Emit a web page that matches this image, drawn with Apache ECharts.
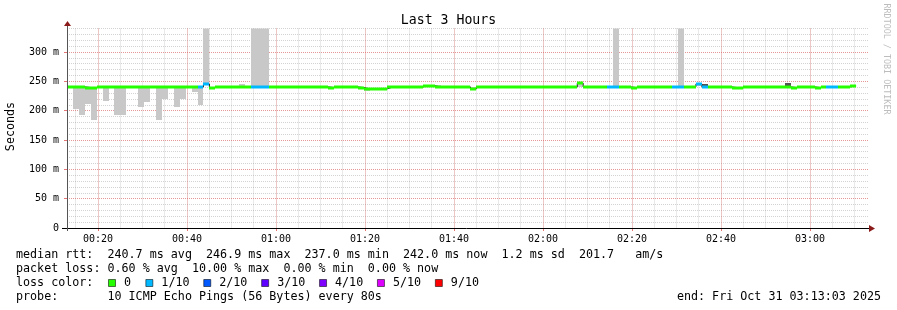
<!DOCTYPE html>
<html><head><meta charset="utf-8">
<script src="https://cdn.jsdelivr.net/npm/echarts@6/dist/echarts.min.js"></script>
<style>html,body{margin:0;padding:0;background:#fff}#c{width:897px;height:310px}</style>
</head><body><div id="c"></div>
<script>
// ---- data ----
const titleText = 'Last 3 Hours';
const yAxisName = 'Seconds';
const startUtc = Date.UTC(2025, 9, 31, 0, 13, 3);   // chart start (UTC used as display clock)
const spanSeconds = 10800;
const stepSeconds = 80;
const xTickLabels = ['00:20','00:40','01:00','01:20','01:40','02:00','02:20','02:40','03:00'];
const yTickValues = [0, 50, 100, 150, 200, 250, 300];
const yTickLabels = ['0', '50 m', '100 m', '150 m', '200 m', '250 m', '300 m'];
const yMaxMs = 340;

// median rtt per 80 s step (ms)
const medianMs = [
  240.5,240.5,240.5,239.4,239.4,240.5,240.5,240.5,240.5,240.5,
  240.5,240.5,240.5,240.5,240.5,240.5,240.5,240.5,240.5,240.5,
  240.5,240.5,240.5,245.5,239.4,240.5,240.5,239.6,239.6,240.5,
  240.5,240.5,240.5,240.5,240.5,240.5,239.8,239.8,239.8,240.5,
  240.5,240.5,240.5,240.5,239.4,240.5,240.5,240.5,240.5,239.4,
  237.2,237.2,237.2,237.2,240.5,240.5,240.5,240.5,240.5,240.5,
  242.3,242.3,240.5,240.5,240.5,240.5,240.5,240.5,237.0,240.5,
  240.5,240.5,240.5,240.5,240.5,240.5,239.6,239.6,239.6,239.6,
  239.6,239.6,239.6,240.5,240.5,240.5,246.9,240.5,240.5,240.5,
  240.5,240.5,240.5,240.5,240.5,239.2,240.5,240.5,240.5,240.5,
  240.5,240.5,240.5,240.5,240.5,240.5,245.5,240.5,240.5,240.5,
  240.5,240.5,239.2,239.2,240.5,240.5,240.5,240.5,240.5,240.5,
  240.5,240.5,239.2,240.5,240.5,240.5,239.2,240.5,240.5,240.5,
  240.5,240.5,242.0
];
// lost pings (of 10) per step
const lossCount = [
  0,0,0,0,0,0,0,0,0,0,
  0,0,0,0,0,0,0,0,0,0,
  0,0,1,1,0,0,0,0,0,0,
  0,1,1,1,0,0,0,0,0,0,
  0,0,0,0,0,0,0,0,0,0,
  0,0,0,0,0,0,0,0,0,0,
  0,0,0,0,0,0,0,0,0,0,
  0,0,0,0,0,0,0,0,0,0,
  0,0,0,0,0,0,0,0,0,0,
  0,1,1,0,0,0,0,0,0,0,
  0,0,1,1,0,0,1,1,0,0,
  0,0,0,0,0,0,0,0,0,0,
  0,0,0,0,0,0,0,0,1,1,
  0,0,0
];
// smoke (ping spread) per step
const smokeStep = [1,2,3,4,6,8,9,12,13,15,16,18,19,21,22,23,29,31,32,33,50,62,68,86,92,103,106];
const smokeLow  = [202,193,211.7,184.5,215.6,191.8,191.8,205.4,213.9,183.3,219,205.4,220,232.6,210,245.5,240.5,242,242,242,233,240.5,237,240,242,242,242];
const smokeHigh = [240.5,240.5,239.4,239.4,240.5,240.5,240.5,240.5,240.5,240.5,240.5,240.5,240.5,240.5,240.5,360,246,360,360,360,237.2,244.5,240,246,360,360,245.5];
const darkStep = [107,121];
const darkLow  = [241.7,242];
const darkHigh = [245.2,247];

const lossLegendLabels = ['0','1/10','2/10','3/10','4/10','5/10','9/10'];
const lossLegendColors = ['#26ff00','#00b8ff','#0059ff','#5e00ff','#7e00ff','#dd00ff','#ff0000'];
const lossColorByCount = ['#26ff00','#00b8ff','#0059ff','#5e00ff','#7e00ff','#dd00ff','#ff0000','#ff0000','#ff0000','#ff0000','#ff0000'];

const statLines = [
  'median rtt:  240.7 ms avg  246.9 ms max  237.0 ms min  242.0 ms now  1.2 ms sd  201.7   am/s',
  'packet loss: 0.60 % avg  10.00 % max  0.00 % min  0.00 % now'
];
const lossColorTitle = 'loss color:';
const probeLine = 'probe:       10 ICMP Echo Pings (56 Bytes) every 80s';
const endLine = 'end: Fri Oct 31 03:13:03 2025';
const watermark = 'RRDTOOL / TOBI OETIKER';

// ---- build ----
const FONT = '"DejaVu Sans Mono", monospace';
const stepMs = stepSeconds * 1000;
const endUtc = startUtc + spanSeconds * 1000;
const tAt = i => startUtc + i * stepMs;

const smokeData = smokeStep.map((s, k) => [tAt(s), tAt(s + 1), smokeLow[k], smokeHigh[k]]);
const darkData = darkStep.map((s, k) => [tAt(s), tAt(s + 1), darkLow[k], darkHigh[k]]);
const lineData = medianMs.map((m, i) => [tAt(i), m]);
lineData.push([tAt(medianMs.length), medianMs[medianMs.length - 1]]);
const bandData = medianMs.map((m, i) => [tAt(i), tAt(i + 1), m, lossCount[i]]);

function rectRender(color) {
  return function (params, api) {
    const a = api.coord([api.value(0), api.value(3)]);
    const b = api.coord([api.value(1), api.value(2)]);
    const cs = params.coordSys;
    const x0 = Math.round(a[0]), x1 = Math.round(b[0]);
    const shape = echarts.graphic.clipRectByRect(
      {x: x0, y: Math.round(a[1]), width: x1 - x0, height: Math.round(b[1]) - Math.round(a[1])},
      {x: cs.x, y: cs.y, width: cs.width, height: cs.height});
    if (!shape) return;
    return {type: 'rect', shape: shape, style: {fill: color}};
  };
}
function bandRender(params, api) {
  const a = api.coord([api.value(0), api.value(2)]);
  const b = api.coord([api.value(1), api.value(2)]);
  const x0 = Math.round(a[0]), x1 = Math.round(b[0]);
  const y = Math.round(a[1]);
  return {type: 'rect', shape: {x: x0, y: y - 1.5, width: x1 - x0, height: 3},
          style: {fill: lossColorByCount[api.value(3)]}};
}
const pad = n => (n < 10 ? '0' : '') + n;
function timeLabel(v) {
  const d = new Date(v);
  const s = pad(d.getUTCHours()) + ':' + pad(d.getUTCMinutes());
  return xTickLabels.indexOf(s) >= 0 && d.getUTCSeconds() === 0 ? s : '';
}

// legend graphics
const CH = 6.85;
const LEG_FONT = '11.7px ' + FONT;
const graphics = [];
const txt = (text, x, y, align) => ({type: 'text', x: x, y: y, silent: true,
  style: {text: text, font: LEG_FONT, fill: '#000', verticalAlign: 'middle', align: align || 'left'}});
graphics.push(txt(statLines[0], 16, 255));
graphics.push(txt(statLines[1], 16, 269));
graphics.push(txt(lossColorTitle, 16, 283));
let lx = 108;
lossLegendLabels.forEach((lab, k) => {
  graphics.push({type: 'rect', silent: true, shape: {x: lx + 0.5, y: 279.5, width: 7, height: 7},
    style: {fill: lossLegendColors[k], stroke: 'rgba(0,0,0,0.55)', lineWidth: 1}});
  graphics.push(txt(lab, lx + 16, 283));
  lx = lx + 16 + lab.length * CH + 14.5;
});
graphics.push(txt(probeLine, 16, 297));
graphics.push(txt(endLine, 881, 297, 'right'));
graphics.push({type: 'text', x: 11, y: 126.5, rotation: Math.PI / 2, silent: true,
  style: {text: yAxisName, font: LEG_FONT, fill: '#000', align: 'center', verticalAlign: 'middle'}});
graphics.push({type: 'text', x: 886, y: 59, rotation: -Math.PI / 2, silent: true,
  style: {text: watermark, font: '8.4px ' + FONT, fill: '#bdbdbd', align: 'center', verticalAlign: 'middle'}});
// axes lines + arrows
graphics.push({type: 'line', silent: true, z: 100, shape: {x1: 62, y1: 228.5, x2: 871, y2: 228.5}, style: {stroke: '#000', lineWidth: 1}});
graphics.push({type: 'line', silent: true, z: 100, shape: {x1: 67.5, y1: 231, x2: 67.5, y2: 24}, style: {stroke: '#555', lineWidth: 1}});
graphics.push({type: 'polygon', silent: true, z: 100, shape: {points: [[64, 26], [71, 26], [67.5, 21]]}, style: {fill: '#8b1a1a'}});
graphics.push({type: 'polygon', silent: true, z: 100, shape: {points: [[869, 225], [869, 232], [875, 228.5]]}, style: {fill: '#8b1a1a'}});

const redGrid = {color: 'rgba(255,70,70,0.42)', type: [1, 1], width: 1};
const grayGrid = {color: 'rgba(140,140,140,0.38)', type: [1, 1], width: 1};
const redTick = {show: true, inside: false, length: 3, lineStyle: {color: 'rgba(220,60,60,0.7)', width: 1}};

const chart = echarts.init(document.getElementById('c'), null, {renderer: 'canvas'});
chart.setOption({
  animation: false,
  useUTC: true,
  backgroundColor: '#fff',
  title: {text: titleText, left: 'center', top: 9,
    textStyle: {fontFamily: FONT, fontSize: 13.2, fontWeight: 'normal', color: '#000'}},
  grid: {left: 67, top: 28.5, width: 801, height: 199.5, containLabel: false},
  xAxis: [
    {type: 'time', min: startUtc, max: endUtc, minInterval: 21 * 60000, maxInterval: 21 * 60000, z: 2,
      axisLine: {show: false}, axisTick: redTick,
      axisLabel: {formatter: timeLabel, fontFamily: FONT, fontSize: 10, color: '#000', margin: 6,
        showMinLabel: false, showMaxLabel: false, hideOverlap: false},
      splitLine: {show: true, showMinLine: false, showMaxLine: false, lineStyle: redGrid}},
    {type: 'time', min: startUtc, max: endUtc, minInterval: 5.5 * 60000, maxInterval: 5.5 * 60000, z: 1,
      axisLine: {show: false}, axisTick: {show: false}, axisLabel: {show: false},
      splitLine: {show: true, showMinLine: false, showMaxLine: false, lineStyle: grayGrid}}
  ],
  yAxis: [
    {type: 'value', min: 0, max: yMaxMs, interval: 50, z: 2,
      axisLine: {show: false}, axisTick: redTick,
      axisLabel: {fontFamily: FONT, fontSize: 10, color: '#000', margin: 8, showMaxLabel: false,
        formatter: v => { const k = yTickValues.indexOf(v); return k >= 0 ? yTickLabels[k] : ''; }},
      splitLine: {show: true, showMinLine: false, showMaxLine: false, lineStyle: redGrid}},
    {type: 'value', min: 0, max: yMaxMs, interval: 10, position: 'left', z: 1,
      axisLine: {show: false}, axisTick: {show: false}, axisLabel: {show: false},
      splitLine: {show: true, showMinLine: false, showMaxLine: true, lineStyle: grayGrid}}
  ],
  series: [
    {type: 'custom', name: 'smoke', renderItem: rectRender('#c8c8c8'), data: smokeData,
      encode: {x: [0, 1], y: [2, 3]}, z: 3, silent: true},
    {type: 'custom', name: 'smoke dark', renderItem: rectRender('#555555'), data: darkData,
      encode: {x: [0, 1], y: [2, 3]}, z: 3, silent: true},
    {type: 'line', name: 'median', step: 'end', data: lineData, showSymbol: false, z: 4, silent: true,
      lineStyle: {color: '#202020', width: 1}},
    {type: 'custom', name: 'median band', renderItem: bandRender, data: bandData,
      encode: {x: [0, 1], y: 2}, z: 5, silent: true}
  ],
  graphic: graphics
});
</script></body></html>
